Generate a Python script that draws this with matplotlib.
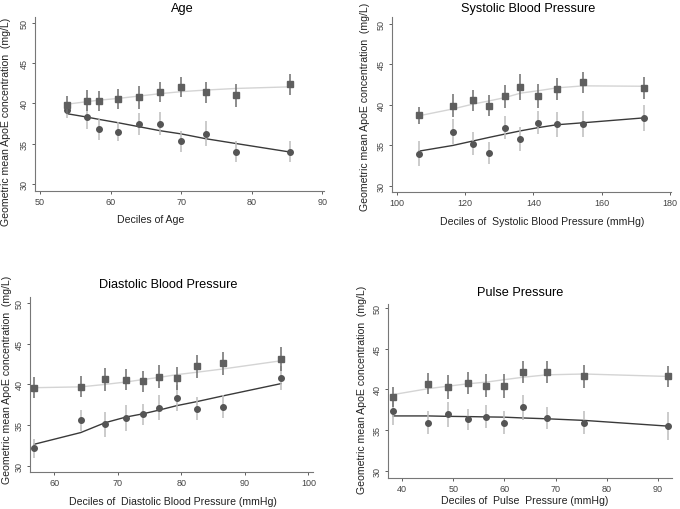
import matplotlib
matplotlib.use('Agg')
import matplotlib.pyplot as plt

plt.rcParams['font.family'] = ['Liberation Sans', 'DejaVu Sans']

# ---- data ----
age_x = [53.9, 56.6, 58.4, 61.0, 64.0, 67.0, 70.0, 73.5, 77.8, 85.4]
age_sq = [39.75, 40.33, 40.29, 40.54, 40.75, 41.4, 42.03, 41.4, 41.0, 42.37]
age_sq_err = [1.1, 1.3, 1.3, 1.2, 1.4, 1.2, 1.3, 1.3, 1.4, 1.3]
age_ci = [39.2, 38.3, 36.76, 36.47, 37.43, 37.47, 35.3, 36.2, 33.98, 34.0]
age_ci_err = [1.0, 1.45, 1.3, 1.2, 1.35, 1.45, 1.3, 1.55, 1.3, 1.3]
age_sq_fit = [39.9, 40.2, 40.4, 40.6, 40.9, 41.2, 41.45, 41.65, 41.85, 42.05]
age_ci_fit = [38.7, 38.3, 38.0, 37.6, 37.1, 36.6, 36.2, 35.6, 35.0, 33.95]

sbp_x = [106.5, 116.4, 122.3, 127.1, 131.6, 136.2, 141.4, 146.8, 154.6, 172.3]
sbp_sq = [38.7, 39.9, 40.56, 39.9, 41.05, 42.2, 41.13, 41.96, 42.8, 42.1]
sbp_sq_err = [1.1, 1.4, 1.3, 1.3, 1.4, 1.6, 1.5, 1.4, 1.3, 1.4]
sbp_ci = [34.0, 36.7, 35.2, 34.08, 37.2, 35.8, 37.8, 37.6, 37.67, 38.37]
sbp_ci_err = [1.5, 1.5, 1.4, 1.4, 1.4, 1.5, 1.4, 1.5, 1.6, 1.6]
sbp_sq_fit = [38.66, 39.5, 40.1, 40.5, 40.9, 41.45, 41.75, 42.1, 42.35, 42.3]
sbp_ci_fit = [34.3, 35.0, 35.55, 36.0, 36.4, 36.8, 37.2, 37.55, 37.8, 38.4]

dbp_x = [56.85, 64.2, 68.0, 71.3, 74.0, 76.5, 79.3, 82.5, 86.6, 95.7]
dbp_sq = [39.6, 39.7, 40.65, 40.57, 40.4, 40.94, 40.74, 42.2, 42.6, 43.1]
dbp_sq_err = [1.3, 1.3, 1.4, 1.3, 1.3, 1.4, 1.4, 1.4, 1.4, 1.5]
dbp_ci = [32.17, 35.6, 35.1, 35.86, 36.35, 37.17, 38.36, 37.0, 37.25, 40.78]
dbp_ci_err = [1.2, 1.3, 1.5, 1.6, 1.3, 1.5, 1.6, 1.4, 1.4, 1.5]
dbp_sq_fit = [39.6, 39.7, 40.0, 40.3, 40.6, 40.86, 41.2, 41.5, 41.9, 42.9]
dbp_ci_fit = [32.66, 34.1, 35.3, 36.0, 36.4, 36.85, 37.4, 37.9, 38.6, 40.1]

pp_x = [38.25, 45.1, 48.9, 52.9, 56.4, 59.9, 63.6, 68.3, 75.6, 91.9]
pp_sq = [39.08, 40.7, 40.3, 40.8, 40.47, 40.4, 42.15, 42.15, 41.6, 41.6]
pp_sq_err = [1.2, 1.3, 1.5, 1.4, 1.4, 1.5, 1.4, 1.4, 1.4, 1.3]
pp_ci = [37.36, 35.9, 36.95, 36.34, 36.67, 35.9, 37.8, 36.5, 35.9, 35.5]
pp_ci_err = [1.7, 1.4, 1.5, 1.3, 1.4, 1.4, 1.5, 1.4, 1.4, 1.7]
pp_sq_fit = [39.37, 40.1, 40.4, 40.7, 40.9, 41.2, 41.5, 41.8, 41.9, 41.6]
pp_ci_fit = [36.75, 36.75, 36.7, 36.67, 36.63, 36.6, 36.5, 36.4, 36.2, 35.5]

ylab = 'Geometric mean ApoE concentration  (mg/L)'

# pos = axes rect in figure fractions; tpos/xpos/ypos = label centres in axes coords
panels = [
    dict(x=age_x, sq=age_sq, sqe=age_sq_err, ci=age_ci, cie=age_ci_err,
         sqf=age_sq_fit, cif=age_ci_fit, title='Age', xlabel='Deciles of Age',
         xlim=(49.3, 90.2), ylim=(29.1, 50.75), xticks=range(50, 91, 10),
         pos=[0.0515, 0.6235, 0.4245, 0.3415],
         tpos=(0.51, 1.05), xpos=(0.40, -0.16), ypos=(-0.10, 0.40)),
    dict(x=sbp_x, sq=sbp_sq, sqe=sbp_sq_err, ci=sbp_ci, cie=sbp_ci_err,
         sqf=sbp_sq_fit, cif=sbp_ci_fit, title='Systolic Blood Pressure',
         xlabel='Deciles of  Systolic Blood Pressure (mmHg)',
         xlim=(98.5, 180.3), ylim=(29.26, 50.86), xticks=range(100, 181, 20),
         pos=[0.576, 0.6216, 0.411, 0.3434],
         tpos=(0.49, 1.05), xpos=(0.54, -0.166), ypos=(-0.097, 0.49)),
    dict(x=dbp_x, sq=dbp_sq, sqe=dbp_sq_err, ci=dbp_ci, cie=dbp_ci_err,
         sqf=dbp_sq_fit, cif=dbp_ci_fit, title='Diastolic Blood Pressure',
         xlabel='Deciles of  Diastolic Blood Pressure (mmHg)',
         xlim=(56.2, 100.7), ylim=(29.26, 50.74), xticks=range(60, 101, 10),
         pos=[0.044, 0.0725, 0.416, 0.3435],
         tpos=(0.49, 1.074), xpos=(0.505, -0.166), ypos=(-0.081, 0.53)),
    dict(x=pp_x, sq=pp_sq, sqe=pp_sq_err, ci=pp_ci, cie=pp_ci_err,
         sqf=pp_sq_fit, cif=pp_ci_fit, title='Pulse Pressure',
         xlabel='Deciles of  Pulse  Pressure (mmHg)',
         xlim=(37.3, 92.7), ylim=(29.14, 50.5), xticks=range(40, 91, 10),
         pos=[0.571, 0.061, 0.417, 0.341],
         tpos=(0.465, 1.07), xpos=(0.48, -0.13), ypos=(-0.092, 0.51)),
]

fig = plt.figure(figsize=(6.8, 5.1), dpi=100)

for p in panels:
    ax = fig.add_axes(p['pos'])
    ax.plot(p['x'], p['sqf'], '-', color='#d4d4d4', lw=1.0, zorder=1)
    ax.plot(p['x'], p['cif'], '-', color='#3a3a3a', lw=1.0, zorder=1)
    ax.errorbar(p['x'], p['sq'], yerr=p['sqe'], fmt='s', ms=4.0, color='#5f5f5f',
                ecolor='#6e6e6e', elinewidth=1.1, capsize=0, zorder=3)
    ax.errorbar(p['x'], p['ci'], yerr=p['cie'], fmt='o', ms=4.0, color='#555555',
                ecolor='#bdbdbd', elinewidth=1.1, capsize=0, zorder=2)
    ax.set_xlim(p['xlim'])
    ax.set_ylim(p['ylim'])
    ax.set_xticks(list(p['xticks']))
    ax.set_yticks([30, 35, 40, 45, 50])
    for lab in ax.get_yticklabels():
        lab.set_rotation(90)
        lab.set_va('center')
    ax.tick_params(labelsize=6.5, colors='#444444', length=2.5, width=0.6, pad=2)
    ax.spines['top'].set_visible(False)
    ax.spines['right'].set_visible(False)
    ax.spines['left'].set_color('#777777')
    ax.spines['bottom'].set_color('#777777')
    ax.text(p['tpos'][0], p['tpos'][1], p['title'], transform=ax.transAxes,
            ha='center', va='center', fontsize=9.2)
    ax.text(p['xpos'][0], p['xpos'][1], p['xlabel'], transform=ax.transAxes,
            ha='center', va='center', fontsize=7.6, color='#222222')
    ax.text(p['ypos'][0], p['ypos'][1], ylab, transform=ax.transAxes,
            ha='center', va='center', rotation=90, fontsize=7.6, color='#222222')

plt.savefig('out.png', dpi=100)
